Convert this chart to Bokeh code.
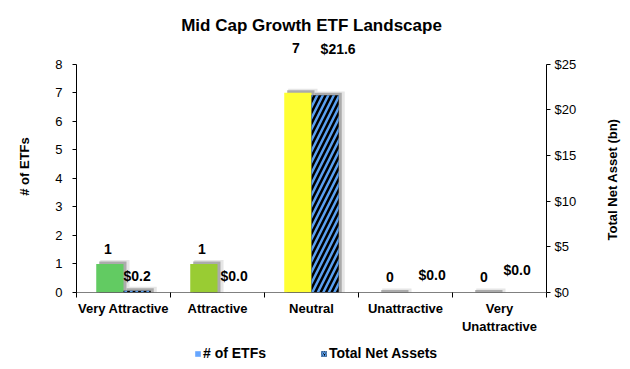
import math
from bokeh.plotting import figure
from bokeh.layouts import column, row
from bokeh.models import (Range1d, LinearAxis, FixedTicker, NumeralTickFormatter,
                          Legend, LegendItem, ColumnDataSource)
from bokeh.core.properties import value
from bokeh.embed import file_html
from bokeh.resources import INLINE

# ---------------- data ----------------
title_text = "Mid Cap Growth ETF Landscape"
right_axis_title = "Total Net Asset (bn)"
categories = ["Very Attractive", "Attractive", "Neutral", "Unattractive", "Very Unattractive"]
tick_labels = ["Very Attractive", "Attractive", "Neutral", "Unattractive", "Very\nUnattractive"]
etf_counts = [1, 1, 7, 0, 0]
net_assets = [0.2, 0.0, 21.6, 0.0, 0.0]
count_labels = ["1", "1", "7", "0", "0"]
asset_labels = ["$0.2", "$0.0", "$21.6", "$0.0", "$0.0"]
series_names = ["# of ETFs", "Total Net Assets"]

# ---------------- style ----------------
bar_colors = ["#62CB62", "#99CC33", "#FFFF33", "#FF6666", "#E02020"]
HATCH_BLUE = "#5AA0F0"
FONT = "Liberation Sans"
W, SIDE_W = 602, 20
TITLE_H, MAIN_H, LEG_H = 40, 296, 25
TOTAL_H = TITLE_H + MAIN_H + LEG_H
FRAME_W, FRAME_H = 470, 230          # size of the 0..8 value span
HEADROOM = 24                         # extra frame above the axis top
N = len(categories)
Y_MAX, Y2_MAX = 8, 25
Y_TOP = Y_MAX * (FRAME_H + HEADROOM) / FRAME_H
Y2_TOP = Y2_MAX * (FRAME_H + HEADROOM) / FRAME_H
BAR_W = 0.29
PX_X = N / FRAME_W
PX_Y = Y_MAX / FRAME_H
PX_Y2 = Y2_MAX / FRAME_H
count_lift = [15, 15, 45, 16, 16]
asset_lift = [15, 17, 46, 18, 23]
asset_shift = [0, 3, 13, 13, 4]

# ---------------- title strip ----------------
tf = figure(width=W, height=TITLE_H, x_range=Range1d(0, 1), y_range=Range1d(0, TITLE_H),
            x_axis_type=None, y_axis_type=None, output_backend="svg",
            toolbar_location=None, min_border=0)
tf.outline_line_color = None
tf.grid.visible = False
tf.text(x=[0.5], y=[TITLE_H - 25], text=[title_text], text_align="center",
        text_baseline="middle", text_font=value(FONT), text_font_size="17px",
        text_font_style="bold", text_color="black")

# ---------------- main chart ----------------
p = figure(width=W, height=MAIN_H, x_range=Range1d(0, N), y_range=Range1d(0, Y_TOP),
           output_backend="svg", toolbar_location=None,
           min_border_left=76, min_border_right=56, min_border_top=0, min_border_bottom=42)
p.extra_y_ranges = {"assets": Range1d(0, Y2_TOP)}
p.outline_line_color = None
p.xgrid.visible = False
p.ygrid.visible = False
p.background_fill_color = "white"
p.border_fill_color = "white"

centers = [i + 0.5 for i in range(N)]
count_x = [c - BAR_W / 2 for c in centers]
asset_x = [c + BAR_W / 2 for c in centers]

# shadows
p.quad(left=[x - BAR_W / 2 + 4 * PX_X for x in count_x],
       right=[x + BAR_W / 2 + 6 * PX_X for x in count_x],
       bottom=0, top=[v + 4 * PX_Y for v in etf_counts],
       fill_color="#E6E6E6", line_color=None)
p.quad(left=[x - BAR_W / 2 + 3 * PX_X for x in count_x],
       right=[x + BAR_W / 2 + 3 * PX_X for x in count_x],
       bottom=0, top=[v + 2.5 * PX_Y for v in etf_counts],
       fill_color="#ABABAB", line_color=None)
p.quad(left=[x - BAR_W / 2 + 4 * PX_X for x in asset_x],
       right=[x + BAR_W / 2 + 6 * PX_X for x in asset_x],
       bottom=0, top=[(v + 4 * PX_Y2) if v > 0 else 0 for v in net_assets],
       fill_color="#E6E6E6", line_color=None, y_range_name="assets")
p.quad(left=[x - BAR_W / 2 + 3 * PX_X for x in asset_x],
       right=[x + BAR_W / 2 + 3 * PX_X for x in asset_x],
       bottom=0, top=[(v + 2.5 * PX_Y2) if v > 0 else 0 for v in net_assets],
       fill_color="#ABABAB", line_color=None, y_range_name="assets")

# bars
p.vbar(x=count_x, top=etf_counts, width=BAR_W, fill_color=bar_colors, line_color=None)
p.vbar(x=asset_x, top=net_assets, width=BAR_W, y_range_name="assets",
       fill_color="black", hatch_pattern="/", hatch_color=HATCH_BLUE,
       hatch_scale=11, hatch_weight=2.5, line_color=None)

# data labels
src_c = ColumnDataSource(dict(x=count_x, y=etf_counts, t=count_labels,
                              yo=[-v for v in count_lift]))
p.text(x="x", y="y", text="t", y_offset="yo", x_offset=-2, source=src_c,
       text_align="center", text_baseline="middle", text_font=value(FONT),
       text_font_size="14px", text_font_style="bold", text_color="black")
src_a = ColumnDataSource(dict(x=asset_x, y=net_assets, t=asset_labels,
                              yo=[-v for v in asset_lift], xo=asset_shift))
p.text(x="x", y="y", text="t", y_offset="yo", x_offset="xo", source=src_a,
       y_range_name="assets",
       text_align="center", text_baseline="middle", text_font=value(FONT),
       text_font_size="14px", text_font_style="bold", text_color="black")

# x axis
xa = p.xaxis[0]
xa.ticker = FixedTicker(ticks=centers, minor_ticks=list(range(N + 1)))
xa.major_label_overrides = {c: t for c, t in zip(centers, tick_labels)}
xa.major_tick_in = 0
xa.major_tick_out = 0
xa.minor_tick_in = 0
xa.minor_tick_out = 5
xa.minor_tick_line_color = "black"
xa.axis_line_color = "black"
xa.axis_line_dash = "1 1"
xa.major_label_standoff = 3
xa.major_label_text_font = FONT
xa.major_label_text_font_size = "13px"
xa.major_label_text_font_style = "bold"
xa.major_label_text_color = "black"

# left axis
ya = p.yaxis[0]
ya.ticker = FixedTicker(ticks=list(range(0, Y_MAX + 1)))
ya.bounds = (0, Y_MAX)
ya.major_tick_in = 0
ya.major_tick_out = 4
ya.minor_tick_line_color = None
ya.axis_line_color = "black"
ya.major_tick_line_color = "black"
ya.major_label_standoff = 10
ya.major_label_text_font = FONT
ya.major_label_text_font_size = "13px"
ya.major_label_text_color = "black"
ya.axis_label = "# of ETFs"
ya.axis_label_text_font = FONT
ya.axis_label_text_font_size = "13px"
ya.axis_label_text_font_style = "bold"
ya.axis_label_text_color = "black"
ya.axis_label_standoff = 20

# right axis (ticks and labels)
ra = LinearAxis(y_range_name="assets", ticker=FixedTicker(ticks=list(range(0, Y2_MAX + 1, 5))),
                formatter=NumeralTickFormatter(format="$0"), bounds=(0, Y2_MAX))
ra.major_tick_in = 0
ra.major_tick_out = 4
ra.minor_tick_line_color = None
ra.axis_line_color = "black"
ra.major_tick_line_color = "black"
ra.major_label_standoff = 4
ra.major_label_text_font = FONT
ra.major_label_text_font_size = "13px"
ra.major_label_text_color = "black"
p.add_layout(ra, "right")

# ---------------- legend strip ----------------
lf = figure(width=W, height=LEG_H, x_range=Range1d(0, 1), y_range=Range1d(0, 1),
            x_axis_type=None, y_axis_type=None, output_backend="svg",
            toolbar_location=None, min_border=0)
lf.outline_line_color = None
lf.grid.visible = False
proxy = dict(left=[float("nan")], right=[float("nan")], top=[float("nan")], bottom=[float("nan")])
r1 = lf.quad(source=ColumnDataSource(proxy), left="left", right="right", top="top",
             bottom="bottom", fill_color="#66A6FF", line_color=None)
r2 = lf.quad(source=ColumnDataSource(proxy), left="left", right="right", top="top",
             bottom="bottom", fill_color="black", hatch_pattern="/", hatch_color=HATCH_BLUE,
             hatch_scale=4, hatch_weight=1.5, line_color=None)
legend = Legend(items=[LegendItem(label=series_names[0], renderers=[r1]),
                       LegendItem(label=series_names[1], renderers=[r2])],
                orientation="horizontal", location=(118, 0),
                glyph_width=7, glyph_height=7, label_standoff=2, spacing=54,
                padding=0, margin=0, border_line_color=None, background_fill_alpha=0,
                label_height=14, label_text_font=FONT, label_text_font_size="14px",
                label_text_font_style="bold", label_text_color="black")
lf.add_layout(legend, "center")

# ---------------- right-hand axis title strip (reads bottom-to-top) ----------------
sf = figure(width=SIDE_W, height=TOTAL_H, x_range=Range1d(0, 1), y_range=Range1d(0, TOTAL_H),
            x_axis_type=None, y_axis_type=None, output_backend="svg",
            toolbar_location=None, min_border=0)
sf.outline_line_color = None
sf.grid.visible = False
sf.text(x=[0.5], y=[TOTAL_H - 179], text=[right_axis_title], angle=math.pi / 2,
        text_align="center", text_baseline="middle", text_font=value(FONT),
        text_font_size="13px", text_font_style="bold", text_color="black")

layout = row(column(tf, p, lf, spacing=0), sf, spacing=0)
open("out.html", "w").write(file_html(layout, INLINE))
